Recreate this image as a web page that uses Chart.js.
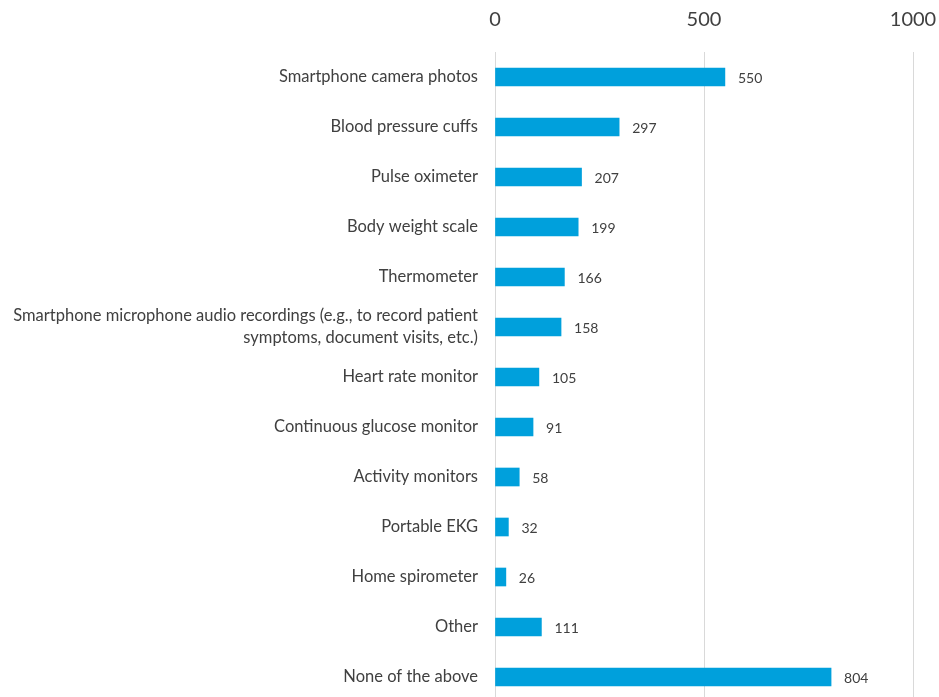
<!DOCTYPE html>
<html>
<head>
<meta charset="utf-8">
<script src="https://cdn.jsdelivr.net/npm/chart.js@4"></script>
<style>
  html, body { margin: 0; padding: 0; background: #fff; overflow: hidden; }
</style>
</head>
<body>
<canvas id="devicesChart" width="939" height="702"></canvas>
<script>
// Devices used - counts
var categories = [
  "Smartphone camera photos",
  "Blood pressure cuffs",
  "Pulse oximeter",
  "Body weight scale",
  "Thermometer",
  ["Smartphone microphone audio recordings (e.g., to record patient", "symptoms, document visits, etc.)"],
  "Heart rate monitor",
  "Continuous glucose monitor",
  "Activity monitors",
  "Portable EKG",
  "Home spirometer",
  "Other",
  "None of the above"
];
var counts = [550, 297, 207, 199, 166, 158, 105, 91, 58, 32, 26, 111, 804];
var tickValues = [0, 500, 1000];

// draws the value next to each bar
var valueLabels = {
  id: "valueLabels",
  afterDatasetsDraw: function (chart) {
    var ctx = chart.ctx;
    var meta = chart.getDatasetMeta(0);
    ctx.save();
    ctx.font = "14px Lato";
    ctx.fillStyle = "#404040";
    ctx.textBaseline = "middle";
    meta.data.forEach(function (bar, i) {
      ctx.fillText(String(counts[i]), bar.x + 13, bar.y + 1);
    });
    ctx.restore();
  }
};

var ctx = document.getElementById("devicesChart").getContext("2d");
new Chart(ctx, {
  type: "bar",
  data: {
    labels: categories,
    datasets: [
      {
        data: counts,
        backgroundColor: "#00A0DC",
        borderWidth: 0,
        barThickness: 18
      }
    ]
  },
  options: {
    indexAxis: "y",
    responsive: false,
    animation: false,
    layout: { padding: { left: 0, right: 26, top: 0, bottom: 0 } },
    plugins: {
      legend: { display: false },
      tooltip: { enabled: false }
    },
    scales: {
      x: {
        position: "top",
        min: 0,
        max: 1000,
        afterBuildTicks: function (scale) {
          scale.ticks = tickValues.map(function (v) { return { value: v }; });
        },
        afterFit: function (scale) {
          scale.height = 52;
          scale.paddingLeft = 0;
          scale.paddingRight = 0;
        },
        grid: { color: "#d9d9d9", drawTicks: false, lineWidth: 1 },
        border: { display: false },
        ticks: {
          color: "#404040",
          font: { family: "Lato", size: 20 },
          padding: 20,
          maxRotation: 0,
          callback: function (v) { return String(v); }
        }
      },
      y: {
        afterFit: function (scale) {
          scale.width = 495;
          scale.paddingTop = 0;
          scale.paddingBottom = 0;
        },
        grid: { display: false, drawTicks: false },
        border: { display: false },
        ticks: {
          color: "#404040",
          font: { family: "Lato", size: 16.5, lineHeight: 1.35 },
          padding: 17,
          autoSkip: false
        }
      }
    }
  },
  plugins: [valueLabels]
});
</script>
</body>
</html>
